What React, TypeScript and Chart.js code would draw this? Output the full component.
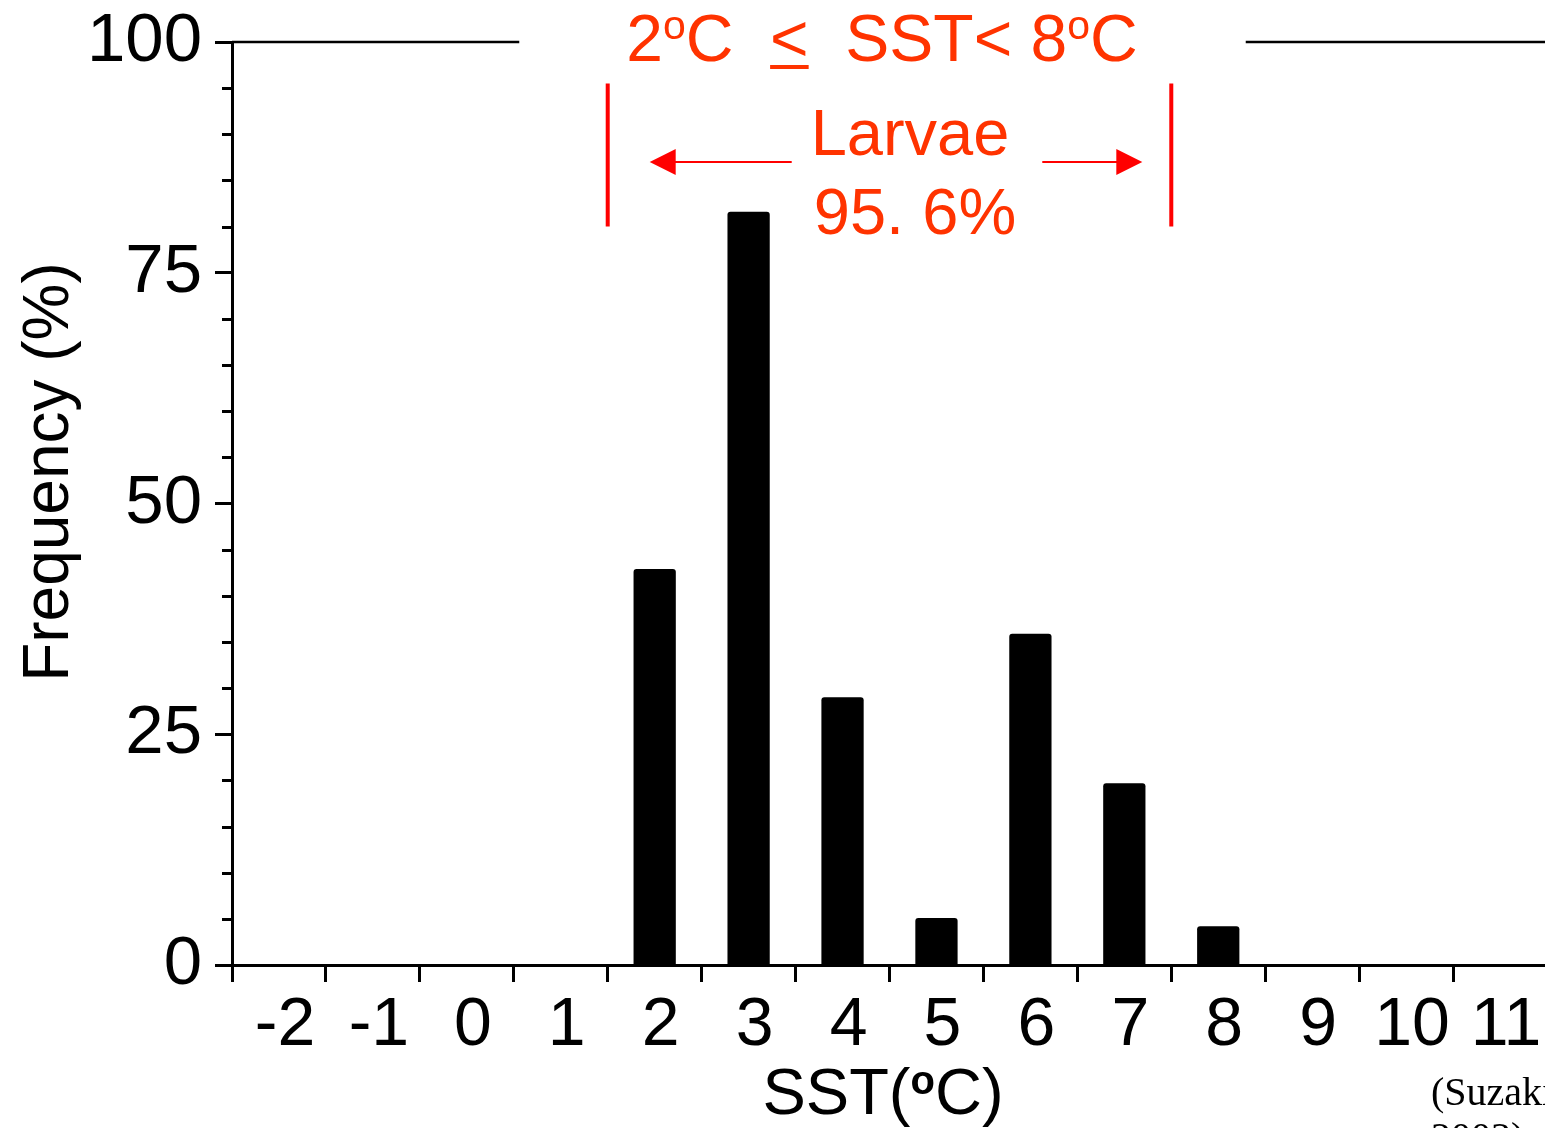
import React, { useEffect, useRef } from "react";
import { Chart, registerables } from "chart.js";

Chart.register(...registerables);

const categories = ["-2", "-1", "0", "1", "2", "3", "4", "5", "6", "7", "8", "9", "10", "11"];
const frequency = [0, 0, 0, 0, 42.9, 81.6, 29.0, 5.1, 35.9, 19.7, 4.2, 0, 0, 0];
const yMajorTicks = [0, 25, 50, 75, 100];
const yMinorStep = 5;
const rangeStartCat = "2";
const rangeEndCat = "7";
const rangeLineTop = 95.5;
const rangeLineBottom = 80;
const arrowLevel = 87;

const SANS = "'Liberation Sans', Arial, sans-serif";
const SERIF = "'Liberation Serif', 'Times New Roman', serif";
const TITLE_RED = "#ff3300";
const LINE_RED = "#ff0000";

type Seg = { text: string; size: number; dy?: number; bold?: boolean; underline?: boolean };

function drawSegs(ctx: CanvasRenderingContext2D, segs: Seg[], cx: number, baseline: number, color: string) {
  const widths = segs.map((s) => {
    ctx.font = `${s.bold ? "bold " : ""}${s.size}px ${SANS}`;
    return ctx.measureText(s.text).width;
  });
  const total = widths.reduce((a, b) => a + b, 0);
  let x = cx - total / 2;
  ctx.fillStyle = color;
  ctx.textAlign = "left";
  ctx.textBaseline = "alphabetic";
  segs.forEach((s, i) => {
    ctx.font = `${s.bold ? "bold " : ""}${s.size}px ${SANS}`;
    ctx.fillText(s.text, x, baseline + (s.dy || 0));
    if (s.underline) {
      ctx.fillRect(x, baseline + 4, widths[i], 4);
    }
    x += widths[i];
  });
  return { left: cx - total / 2, right: cx + total / 2 };
}

const annotationPlugin = {
  id: "annotations",
  afterDraw(chart: any) {
    const ctx: CanvasRenderingContext2D = chart.ctx;
    const xs = chart.scales.x;
    const ys = chart.scales.y;
    const area = chart.chartArea;
    ctx.save();

    // minor y ticks
    ctx.strokeStyle = "#000";
    ctx.lineWidth = 3;
    for (let v = yMinorStep; v < 100; v += yMinorStep) {
      if (yMajorTicks.includes(v)) continue;
      const y = Math.round(ys.getPixelForValue(v)) + 0.5;
      ctx.beginPath();
      ctx.moveTo(area.left - 10, y);
      ctx.lineTo(area.left, y);
      ctx.stroke();
    }

    // title
    const titleCx = 882;
    const t = drawSegs(
      ctx,
      [
        { text: "2", size: 66 },
        { text: "o", size: 41, dy: -22 },
        { text: "C  ", size: 66 },
        { text: "<", size: 66, underline: true },
        { text: "  SST< 8", size: 66 },
        { text: "o", size: 41, dy: -22 },
        { text: "C", size: 66 },
      ],
      titleCx,
      61,
      TITLE_RED
    );

    // top frame line with gap for the title
    const yTop = ys.getPixelForValue(100);
    ctx.strokeStyle = "#000";
    ctx.lineWidth = 2.5;
    ctx.beginPath();
    ctx.moveTo(area.left, yTop);
    ctx.lineTo(t.left - 107, yTop);
    ctx.moveTo(t.right + 108, yTop);
    ctx.lineTo(area.right, yTop);
    ctx.stroke();

    // range lines
    const half = (xs.getPixelForValue(1) - xs.getPixelForValue(0)) / 2;
    const xL = xs.getPixelForValue(categories.indexOf(rangeStartCat)) - half;
    const xR = xs.getPixelForValue(categories.indexOf(rangeEndCat)) + half;
    const y1 = ys.getPixelForValue(rangeLineTop);
    const y2 = ys.getPixelForValue(rangeLineBottom);
    ctx.strokeStyle = LINE_RED;
    ctx.lineWidth = 4;
    ctx.beginPath();
    ctx.moveTo(xL, y1);
    ctx.lineTo(xL, y2);
    ctx.moveTo(xR, y1);
    ctx.lineTo(xR, y2);
    ctx.stroke();

    // arrows
    const ya = ys.getPixelForValue(arrowLevel);
    const tipL = xL + 42;
    const tipR = xR - 29;
    const headLen = 26;
    const headHalf = 13;
    ctx.lineWidth = 2;
    ctx.beginPath();
    ctx.moveTo(tipL + headLen - 2, ya);
    ctx.lineTo(tipL + 142, ya);
    ctx.moveTo(tipR - 100, ya);
    ctx.lineTo(tipR - headLen + 2, ya);
    ctx.stroke();
    ctx.fillStyle = LINE_RED;
    ctx.beginPath();
    ctx.moveTo(tipL, ya);
    ctx.lineTo(tipL + headLen, ya - headHalf);
    ctx.lineTo(tipL + headLen, ya + headHalf);
    ctx.closePath();
    ctx.fill();
    ctx.beginPath();
    ctx.moveTo(tipR, ya);
    ctx.lineTo(tipR - headLen, ya - headHalf);
    ctx.lineTo(tipR - headLen, ya + headHalf);
    ctx.closePath();
    ctx.fill();

    // Larvae text
    ctx.fillStyle = TITLE_RED;
    ctx.font = `65px ${SANS}`;
    ctx.textAlign = "center";
    ctx.textBaseline = "alphabetic";
    ctx.fillText("Larvae", 910, 155);
    ctx.fillText("95. 6%", 915, 234);

    // axis titles
    ctx.fillStyle = "#000";
    drawSegs(
      ctx,
      [
        { text: "SST(", size: 65 },
        { text: "o", size: 40, dy: -20, bold: true },
        { text: "C)", size: 65 },
      ],
      883,
      1114,
      "#000"
    );

    ctx.save();
    ctx.translate(68, 472);
    ctx.rotate(-Math.PI / 2);
    ctx.font = `64px ${SANS}`;
    ctx.textAlign = "center";
    ctx.textBaseline = "alphabetic";
    ctx.fillStyle = "#000";
    ctx.fillText("Frequency (%)", 0, 0);
    ctx.restore();

    // source note
    ctx.font = `40px ${SERIF}`;
    ctx.textAlign = "left";
    ctx.fillStyle = "#000";
    ctx.fillText("(Suzaki", 1431, 1105);
    ctx.fillText("2003)", 1431, 1150);

    ctx.restore();
  },
};

export default function App() {
  const ref = useRef<HTMLCanvasElement | null>(null);

  useEffect(() => {
    if (!ref.current) return;
    const chart = new Chart(ref.current, {
      type: "bar",
      data: {
        labels: categories,
        datasets: [
          {
            data: frequency,
            backgroundColor: "#000",
            borderRadius: 3,
            borderSkipped: "bottom",
            categoryPercentage: 1,
            barPercentage: 0.45,
          },
        ],
      },
      options: {
        responsive: false,
        animation: false,
        devicePixelRatio: 1,
        layout: { padding: { left: 0, top: 42, right: 13, bottom: 0 } },
        plugins: {
          legend: { display: false },
          tooltip: { enabled: false },
          title: { display: false },
        },
        scales: {
          x: {
            type: "category",
            offset: true,
            grid: {
              offset: true,
              drawOnChartArea: false,
              drawTicks: true,
              tickLength: 17,
              tickWidth: 3,
              tickColor: "#000",
            },
            border: { display: true, color: "#000", width: 3 },
            ticks: {
              color: "#000",
              font: { family: SANS, size: 68 },
              padding: 3,
              labelOffset: 6,
              maxRotation: 0,
              autoSkip: false,
            },
            afterFit: (s: any) => {
              s.height = 163;
              s.paddingLeft = 0;
              s.paddingRight = 0;
            },
          },
          y: {
            min: 0,
            max: 100,
            afterBuildTicks: (s: any) => {
              s.ticks = yMajorTicks.map((v) => ({ value: v }));
            },
            grid: {
              drawOnChartArea: false,
              drawTicks: true,
              tickLength: 17,
              tickWidth: 3,
              tickColor: "#000",
            },
            border: { display: true, color: "#000", width: 3 },
            ticks: {
              color: "#000",
              font: { family: SANS, size: 69 },
              padding: 13,
            },
            afterFit: (s: any) => {
              s.width = 232;
              s.paddingTop = 0;
              s.paddingBottom = 0;
            },
          },
        },
      },
      plugins: [annotationPlugin],
    });
    return () => chart.destroy();
  }, []);

  return (
    <div
      style={{
        position: "fixed",
        left: 0,
        top: 0,
        width: 1545,
        height: 1128,
        overflow: "hidden",
        background: "#fff",
      }}
    >
      <canvas ref={ref} width={1560} height={1128} style={{ display: "block", width: 1560, height: 1128 }} />
    </div>
  );
}
